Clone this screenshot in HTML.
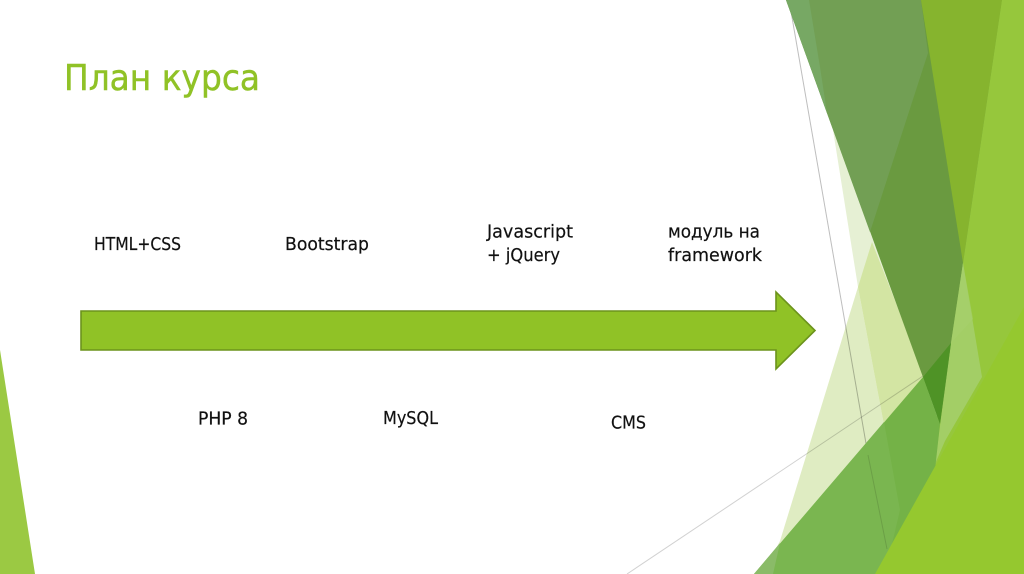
<!DOCTYPE html>
<html lang="ru"><head><meta charset="utf-8"><title>План курса</title>
<style>html,body{margin:0;padding:0;background:#fff;width:1024px;height:574px;overflow:hidden}svg{display:block}
text{font-family:"DejaVu Sans","Liberation Sans",sans-serif;fill:#111;stroke:#111;stroke-width:.2px;font-size:17.5px}
</style></head><body>
<svg width="1024" height="574" viewBox="0 0 1024 574" xmlns="http://www.w3.org/2000/svg">
<rect width="1024" height="574" fill="#fff"/>
<polygon points="0,350 35,574 0,574" fill="#9bc943"/>
<!-- pale facets -->
<polygon points="833,130 858,287 885,430 930,390 873,235" fill="#e6f0d4"/>
<polygon points="858,287 885,430 770,560 780,541" fill="#dfecc2"/>
<polygon points="872,242 858,287 885,430 930,390" fill="#d3e5a3"/>
<!-- gray lines, continuous over white and pale facets -->
<line x1="789" y1="0" x2="868" y2="455" stroke="#000" stroke-opacity=".26" stroke-width="1"/>
<line x1="627" y1="574" x2="923" y2="376" stroke="#000" stroke-opacity=".18" stroke-width="1"/>
<!-- right base under everything -->
<polygon points="995,0 1024,0 1024,574 915,574" fill="#96c73c"/>
<!-- top facets -->
<polygon points="786,0 1002,0 940,424" fill="#6a9a40"/>
<polygon points="786,0 921,0 928,53 870,232" fill="#729f54"/>
<polygon points="786,0 809,0 820,67 827,113" fill="#77a864"/>
<polygon points="921,0 1002,0 963,263" fill="#86b42e"/>
<polygon points="1002,0 1024,0 1024,320 935,480 935,464 963,263" fill="#96c73c"/>
<polygon points="963,263 982,377 945,441 935,464 951,343" fill="#a3ce66"/>
<polygon points="951,343 973,319 963,263" fill="#a6d06c" opacity=".6"/>
<!-- medium green -->
<polygon points="754,574 923,377 940,424 935,470 885,574" fill="#74b247"/>
<polygon points="754,574 884,422 900,510 885,574" fill="#7ab650"/>
<polygon points="780,543 773,574 754,574" fill="#8abb68"/>
<polygon points="923,377 951,343 940,424" fill="#4f9326"/>
<line x1="868" y1="455" x2="887" y2="549" stroke="#000" stroke-opacity=".12" stroke-width="1"/>
<polygon points="875,574 1024,307 1024,574" fill="#95c82f"/>
<!-- arrow -->
<polygon points="81,311 776,311 776,292 815,330.5 776,369 776,350 81,350" fill="#90c226" stroke="#6c931c" stroke-width="1.6"/>
<!-- text -->
<text x="64" y="90" textLength="196" lengthAdjust="spacingAndGlyphs" style="font-size:36px;fill:#90c226;stroke:#90c226;stroke-width:.5px">План курса</text>
<text x="94" y="250" textLength="87" lengthAdjust="spacingAndGlyphs">HTML+CSS</text>
<text x="285" y="250" textLength="84" lengthAdjust="spacingAndGlyphs">Bootstrap</text>
<text x="487" y="237.5" textLength="86" lengthAdjust="spacingAndGlyphs">Javascript</text>
<text x="487" y="261" textLength="73" lengthAdjust="spacingAndGlyphs">+ jQuery</text>
<text x="668" y="237.5" textLength="92" lengthAdjust="spacingAndGlyphs">модуль на</text>
<text x="668" y="261" textLength="94" lengthAdjust="spacingAndGlyphs">framework</text>
<text x="198" y="424.5" textLength="50" lengthAdjust="spacingAndGlyphs">PHP 8</text>
<text x="383" y="424" textLength="55" lengthAdjust="spacingAndGlyphs">MySQL</text>
<text x="611" y="428.5" textLength="35" lengthAdjust="spacingAndGlyphs">CMS</text>
</svg>
</body></html>
